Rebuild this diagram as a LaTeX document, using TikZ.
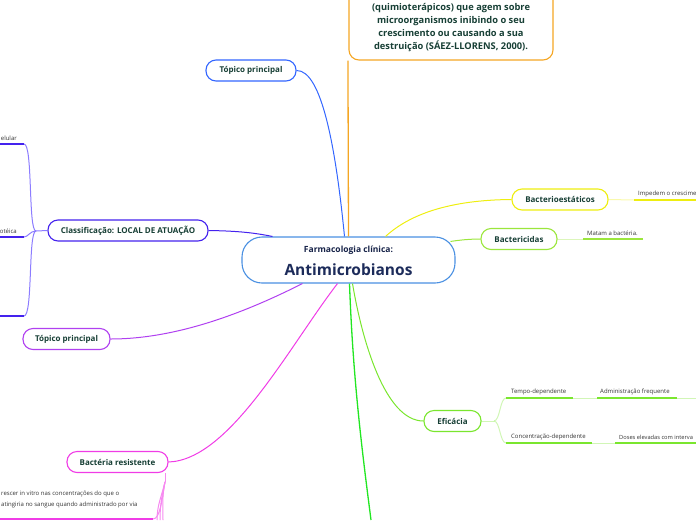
\documentclass[tikz,border=0pt]{standalone}
\usepackage{fontspec}
\setmainfont{Open Sans}
\usetikzlibrary{positioning, calc}
\definecolor{txtdark}{HTML}{173F35}
\definecolor{titlenavy}{HTML}{1C2B5A}
\definecolor{cblue}{HTML}{4A90E2}
\definecolor{topblue}{HTML}{3366FF}
\definecolor{clsviolet}{HTML}{4422EE}
\definecolor{fanviolet}{HTML}{8C7CFF}
\definecolor{tppurple}{HTML}{B040F0}
\definecolor{resmag}{HTML}{F03CE6}
\definecolor{staty}{HTML}{EEEE10}
\definecolor{cidlime}{HTML}{9BE63C}
\definecolor{efgreen}{HTML}{7AE62E}
\definecolor{brgreen}{HTML}{22E622}
\definecolor{deforange}{HTML}{F5A623}

\begin{document}
\begin{tikzpicture}[x=1pt, y=-1pt,
  every node/.style={text=txtdark},
  topic/.style={draw, line width=1.1pt, rounded corners=10pt, fill=white,
                inner sep=0pt, minimum height=21pt,
                font=\fontsize{8}{10}\selectfont\bfseries},
  leaf/.style={font=\fontsize{6}{7}\selectfont, text=black!80,
               inner sep=1pt, anchor=south west},
  link/.style={line width=1pt},
  under/.style={line width=2pt},
  thinl/.style={line width=1pt, opacity=0.35}
]
  \useasboundingbox (0,0) rectangle (696,520);

  % central topic
  \node[topic, draw=cblue, minimum width=213pt, minimum height=46pt,
        rounded corners=20pt] (central) at (348.5,260) {};
  \node[font=\fontsize{8.5}{10}\selectfont\bfseries, text=titlenavy!80!black]
        (subtitle) at (348.5,250.5) {Farmacologia clínica:};
  \node[font=\fontsize{15.5}{18}\selectfont\bfseries, text=titlenavy]
        (title) at (348.5,269.5) {Antimicrobianos};

  % definition box (cut at the top)
  \node[draw=deforange, line width=1.1pt, rounded corners=10pt,
        minimum width=204pt, minimum height=120pt] (defbox) at (451,0) {};
  \node[align=center, font=\fontsize{9.3}{13}\selectfont\bfseries]
        (deftext) at (451,27.5)
        {(quimioterápicos) que agem sobre\\microorganismos inibindo o seu\\
         crescimento ou causando a sua\\destruição (SÁEZ-LLORENS, 2000).};
  \draw[line width=1.3pt, deforange] ([xshift=-0.5pt]defbox.south west) -- (central.north);

  % main branches
  \node[topic, draw=topblue, minimum width=90pt]    (tpa)  at (251,70.5)  {Tópico principal};
  \node[topic, draw=clsviolet, minimum width=160pt] (cls)  at (128,230.5) {Classificação: LOCAL DE ATUAÇÃO};
  \node[topic, draw=tppurple, minimum width=87pt]   (tpb)  at (66.5,339)  {Tópico principal};
  \node[topic, draw=resmag, minimum width=101pt]    (res)  at (117.5,462) {Bactéria resistente};
  \node[topic, draw=staty, minimum width=96pt]      (stat) at (560,199.5) {Bacterioestáticos};
  \node[topic, draw=cidlime, minimum width=76pt]    (cid)  at (519,239)   {Bactericidas};
  \node[topic, draw=efgreen, minimum width=57pt]    (efi)  at (452.5,421) {Eficácia};
  \coordinate (offgreen) at (371,520);

  \draw[link, topblue] (tpa.east) .. controls (322,70) and (336,150) .. ([xshift=-4pt]central.north);
  \draw[link, clsviolet] (cls.east) .. controls (240,231) and (255,233) .. ([xshift=-76pt]central.north);
  \draw[link, tppurple] (tpb.east) .. controls (180,339) and (250,310) .. ([xshift=-46pt]central.south);
  \draw[link, resmag] (res.east) .. controls (230,460) and (290,345) .. ([xshift=-11pt]central.south);
  \draw[link, staty] (stat.west) .. controls (450,200) and (410,214) .. ([xshift=37pt]central.north);
  \draw[link, cidlime] (cid.west) .. controls (470,239) and (460,240) .. ([xshift=102pt,yshift=-5pt]central.north);
  \draw[link, efgreen] (efi.west) .. controls (385,421) and (362,340) .. ([xshift=4pt]central.south);
  \draw[line width=1.3pt, brgreen] ([xshift=1pt]central.south) .. controls (353,380) and (362,450) .. (offgreen);

  % Classificação -- leaves cut at the left edge
  \coordinate (clsfork) at (36,231);
  \draw[link, fanviolet] (cls.west) -- (clsfork);
  \draw[link, fanviolet] (clsfork) .. controls (28,231) and (33,144) .. (24,144);
  \draw[link, fanviolet] (clsfork) .. controls (30,231) and (28,237) .. (24,237);
  \draw[link, fanviolet] (clsfork) .. controls (28,231) and (33,316) .. (24,316);
  \draw[under, clsviolet] (0,144) -- (24,144);
  \draw[under, clsviolet] (0,237) -- (24,237);
  \draw[under, clsviolet] (0,316) -- (24,316);
  \node[leaf, anchor=south east] (celular) at (18,142) {elular};
  \node[leaf, anchor=south east] (proteica) at (18,235) {otéica};

  % Bactéria resistente -- leaf cut at the bottom
  \coordinate (resfork) at (165,482);
  \coordinate (resend) at (153,519);
  \draw[link, resmag!60] (res.south -| resfork) -- (resfork);
  \draw[link, resmag!60] (resfork) .. controls (162,500) and (160,519) .. (resend);
  \foreach \xe in {157,160,163}
    \draw[link, resmag!60] (resfork) .. controls (162,495) and (\xe,505) .. (\xe,520);
  \draw[under, resmag] (0,519) -- (resend);
  \node[leaf, anchor=north west, align=left,
        font=\fontsize{6}{11}\selectfont] (resleaf) at (0,490)
        {rescer in vitro nas concentrações do que o\\atingiria no sangue quando administrado por via};

  % Bacterioestáticos / Bactericidas leaves
  \draw[thinl, staty] (stat.east) -- (634,200);
  \draw[under, staty] (634,200) -- (696,200);
  \node[leaf] (impedem) at (637,198) {Impedem o crescime};
  \draw[thinl, cidlime] (cid.east) -- (583,239);
  \draw[under, cidlime] (583,239) -- (643,239);
  \node[leaf] (matam) at (586,237) {Matam a bactéria.};

  % Eficácia leaves
  \coordinate (efifork) at (494,421);
  \draw[thinl, efgreen] (efi.east) -- (efifork);
  \draw[thinl, efgreen] (efifork) .. controls (500,421) and (500,398) .. (506,398);
  \draw[thinl, efgreen] (efifork) .. controls (500,421) and (500,443) .. (506,443);
  \draw[under, efgreen] (506,398) -- (573,398);
  \draw[thinl, efgreen] (573,398) -- (597,398);
  \draw[under, efgreen] (597,398) -- (677,398);
  \draw[thinl, efgreen] (677,398) -- (696,398);
  \draw[under, efgreen] (506,443) -- (592,443);
  \draw[thinl, efgreen] (592,443) -- (615,443);
  \draw[under, efgreen] (615,443) -- (696,443);
  \node[leaf] (tempo) at (510,396) {Tempo-dependente};
  \node[leaf] (freq)  at (599,396) {Administração frequente};
  \node[leaf] (conc)  at (510,441) {Concentração-dependente};
  \node[leaf, font=\fontsize{5.7}{7}\selectfont] (doses) at (618,441) {Doses elevadas com interva};
\end{tikzpicture}
\end{document}
